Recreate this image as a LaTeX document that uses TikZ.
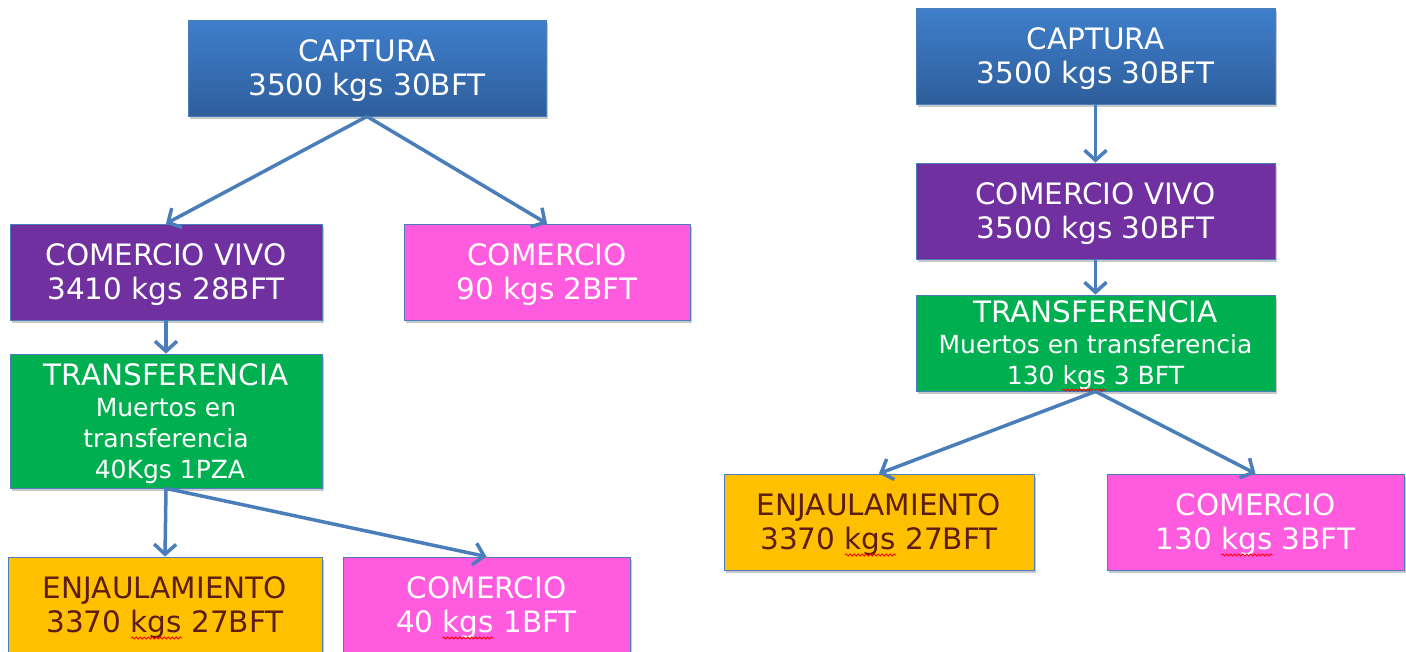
\documentclass[tikz,border=0pt]{standalone}
\usepackage{fontspec}
\setmainfont{DejaVu Sans}
\usetikzlibrary{arrows.meta,shadows,decorations.pathmorphing}
\newcommand\bigf{\fontsize{29.5}{34}\selectfont}
\newcommand\smf{\fontsize{25}{31}\selectfont}
\newcommand\ttlf{\fontsize{29.5}{31}\selectfont}
\definecolor{cblueT}{HTML}{3F7FCC}
\definecolor{cblueB}{HTML}{2E5E9C}
\definecolor{cpurple}{HTML}{7030A0}
\definecolor{cpink}{HTML}{FF5BDF}
\definecolor{cgreen}{HTML}{00B050}
\definecolor{cyellow}{HTML}{FFC000}
\definecolor{cbrown}{HTML}{5C1E14}
\definecolor{cborder}{HTML}{4A7EBB}
\definecolor{carrow}{HTML}{4A7EBB}
\tikzset{
  box/.style={draw=cborder, line width=0.8pt, minimum height=96pt, inner sep=0pt,
    align=center, text=white, font=\bigf, text depth=0pt,
    drop shadow={shadow xshift=2pt, shadow yshift=-3pt, opacity=0.3, fill=black!70}},
  capbox/.style={box, top color=cblueT, bottom color=cblueB},
  purbox/.style={box, fill=cpurple},
  pinkbox/.style={box, fill=cpink},
  grnbox/.style={box, fill=cgreen, font=\smf},
  yelbox/.style={box, fill=cyellow, text=cbrown},
  arr/.style={draw=carrow, line width=3.5pt, -{Straight Barb[length=10pt,width=22pt]}},
  squig/.style={draw=red, line width=0.8pt, decorate,
    decoration={snake, amplitude=1.1pt, segment length=4pt}}
}
\begin{document}
\begin{tikzpicture}[x=1pt,y=-1pt]
\fill[white] (0,0) rectangle (1406,651);
\useasboundingbox (0,0) rectangle (1406,651);
\clip (0,0) rectangle (1406,651);
% left tree
\node[capbox, minimum width=358pt] (capL) at (367,68) {CAPTURA\\3500 kgs 30BFT};
\node[purbox, minimum width=312pt] (cvL) at (166,272) {COMERCIO VIVO\\3410 kgs 28BFT};
\node[pinkbox, minimum width=286pt] (coL) at (547,272) {COMERCIO\\90 kgs 2BFT};
\node[grnbox, minimum width=312pt, minimum height=134pt] (trL) at (166,421)
  {{\ttlf TRANSFERENCIA}\\Muertos en\\transferencia\\\ 40Kgs 1PZA};
\node[yelbox, minimum width=314pt] (enL) at (165,605) {ENJAULAMIENTO\\3370 kgs 27BFT};
\node[pinkbox, minimum width=287pt] (co2L) at (486.5,605) {COMERCIO\\40 kgs 1BFT};
% right tree
\node[capbox, minimum width=359pt] (capR) at (1095.5,56) {CAPTURA\\3500 kgs 30BFT};
\node[purbox, minimum width=359pt] (cvR) at (1095.5,211) {COMERCIO VIVO\\3500 kgs 30BFT};
\node[grnbox, minimum width=359pt] (trR) at (1095.5,343)
  {{\ttlf TRANSFERENCIA}\\Muertos en transferencia\\130 kgs 3 BFT};
\node[yelbox, minimum width=310pt] (enR) at (879,522) {ENJAULAMIENTO\\3370 kgs 27BFT};
\node[pinkbox, minimum width=297pt] (coR) at (1255.5,522) {COMERCIO\\130 kgs 3BFT};
% spell-check squiggles under "kgs"
\draw[squig] ([xshift=-34pt,yshift=-33pt]enL.center) -- ++(51pt,0pt);
\draw[squig] ([xshift=-44pt,yshift=-33pt]co2L.center) -- ++(51pt,0pt);
\draw[squig] ([xshift=-34pt,yshift=-33pt]enR.center) -- ++(51pt,0pt);
\draw[squig] ([xshift=-34pt,yshift=-33pt]coR.center) -- ++(51pt,0pt);
\draw[squig] ([xshift=-33pt,yshift=-47pt]trR.center) -- ++(43pt,0pt);
% connectors
\draw[arr] (capL.south) -- (cvL.north);
\draw[arr] (capL.south) -- (coL.north);
\draw[arr] (cvL.south) -- (trL.north);
\draw[arr] (trL.south) -- (enL.north);
\draw[arr] (trL.south) -- (co2L.north);
\draw[arr] (capR.south) -- (cvR.north);
\draw[arr] (cvR.south) -- (trR.north);
\draw[arr] (trR.south) -- (enR.north);
\draw[arr] (trR.south) -- (coR.north);
\end{tikzpicture}
\end{document}
